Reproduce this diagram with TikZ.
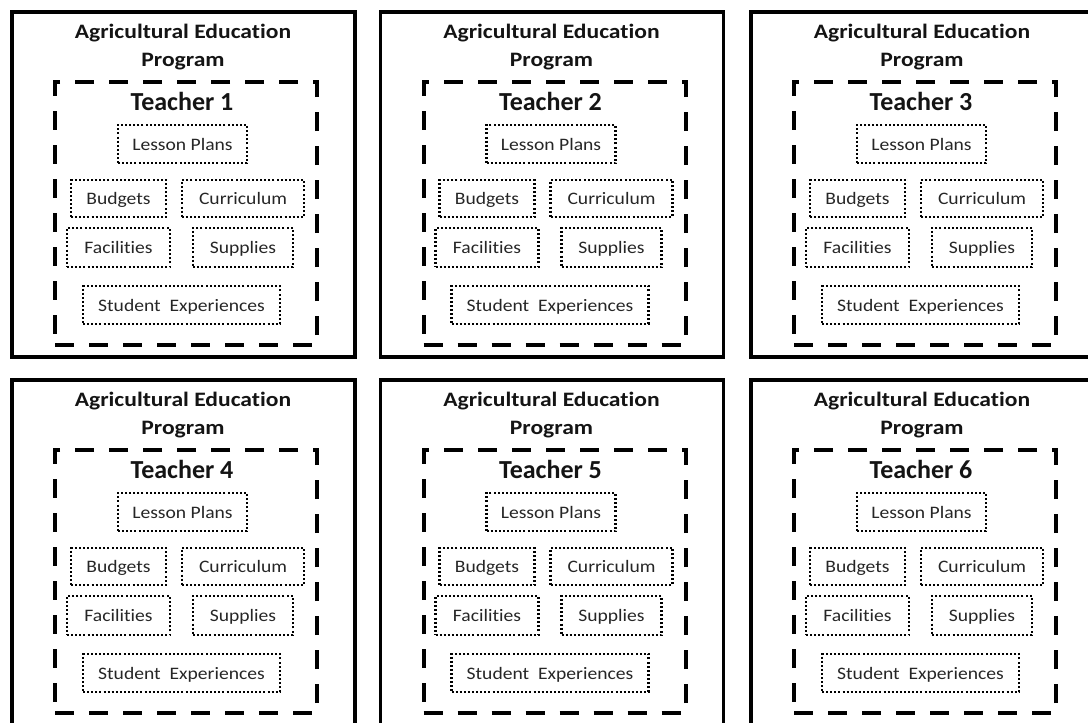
\documentclass[tikz,border=0pt]{standalone}
\usepackage{fontspec}
\setmainfont[Ligatures=NoCommon]{Carlito}
\newfontfamily\titlefont[FakeStretch=1.15,Ligatures=NoCommon]{Carlito}
\newfontfamily\itemfont[FakeStretch=1.12,Ligatures=NoCommon]{Carlito}
\begin{document}
\begin{tikzpicture}[x=1pt,y=-1pt,
  panelbox/.style={draw=black,line width=3.5pt},
  teacherbox/.style={draw=black,line width=4pt,dash pattern=on 19pt off 15pt},
  itembox/.style={draw=black,line width=2.4pt,dash pattern=on 2pt off 2.1pt,
    inner sep=0pt,text height=12pt,text depth=0pt,
    font=\itemfont\fontsize{17.5}{20}\selectfont,text=black!85},
  titletext/.style={font=\titlefont\bfseries\fontsize{20.5}{28}\selectfont,align=center,text=black!92,inner sep=0pt},
  teachertext/.style={font=\bfseries\fontsize{26}{30}\selectfont,text=black!92,inner sep=0pt}]
\useasboundingbox (0,0) rectangle (1088,723);
\fill[white] (0,0) rectangle (1088,723);
\foreach \n/\ox/\oy in {1/10/10, 2/378.5/10, 3/749/10, 4/10/378, 5/378.5/378, 6/749/378}{
  \begin{scope}[shift={(\ox,\oy)}]
    \node[panelbox,minimum width=343pt,minimum height=345pt,inner sep=0pt,anchor=north west] (panel\n) at (0,0) {};
    \node[teacherbox,minimum width=262pt,minimum height=263pt,inner sep=0pt,anchor=north west] (tbox\n) at (43,70) {};
    \node[titletext] (title\n) at (173,37) {Agricultural Education\\Program};
    \node[teachertext,anchor=base] (teacher\n) at (172,100) {Teacher \n};
    \node[itembox,minimum width=129pt,minimum height=38pt] (lesson\n) at (172.5,134) {Lesson Plans};
    \node[itembox,minimum width=95pt,minimum height=37pt] (budgets\n) at (108.5,188.5) {Budgets};
    \node[itembox,minimum width=122pt,minimum height=37pt] (curric\n) at (233,188.5) {Curriculum};
    \node[itembox,minimum width=103pt,minimum height=39pt] (facil\n) at (108.5,237.5) {Facilities};
    \node[itembox,minimum width=100pt,minimum height=39pt] (suppl\n) at (233,237.5) {Supplies};
    \node[itembox,minimum width=197pt,minimum height=38pt] (student\n) at (171.5,295) {Student\ \ Experiences};
  \end{scope}
}
\end{tikzpicture}
\end{document}
